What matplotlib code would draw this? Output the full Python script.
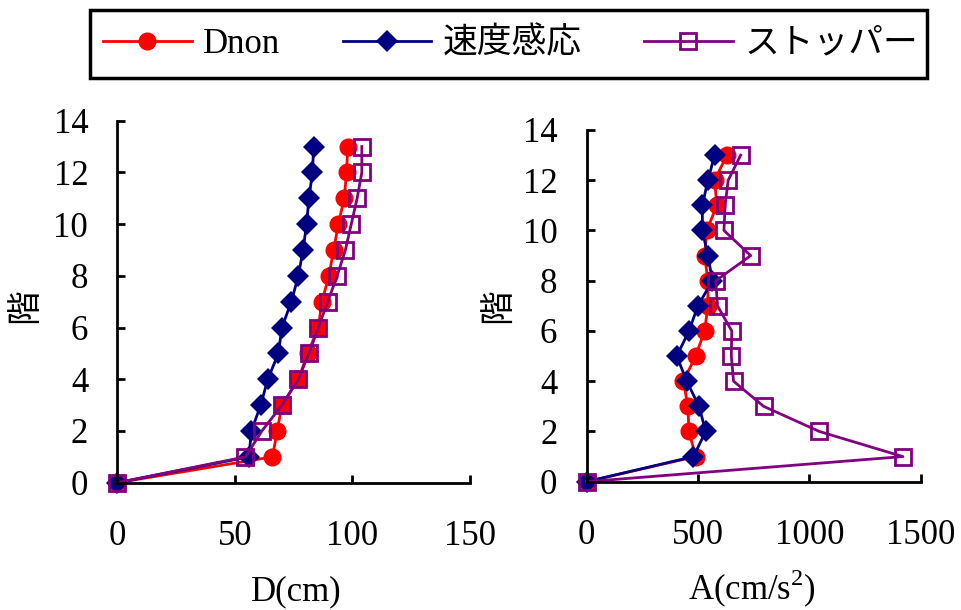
"""Floor response profiles: displacement and acceleration."""

import matplotlib

matplotlib.use("Agg")

import matplotlib.pyplot as plt
from matplotlib.patches import Rectangle

plt.rcParams["font.family"] = ["Liberation Serif", "Noto Sans CJK JP"]
plt.rcParams["mathtext.fontset"] = "custom"
plt.rcParams["mathtext.rm"] = "Liberation Serif"

floors = list(range(14))

disp_dnon = [0, 66, 68, 70, 77, 81, 85.5, 87, 90, 92, 94, 96.5, 97.5, 98]
disp_speed = [0, 56, 57, 61, 64, 68.5, 70, 74, 77, 79, 80.5, 81.5, 83, 83.5]
disp_stopper = [0, 54.5, 61.5, 70, 77, 81.5, 85.5, 89.5, 93.5, 97, 99.5, 102, 104, 104]

acc_dnon = [0, 490, 460, 455, 435, 490, 530, 545, 545, 530, 540, 585, 575, 630]
acc_speed = [0, 480, 535, 505, 450, 405, 460, 500, 565, 545, 520, 520, 545, 575]
acc_stopper = [0, 1420, 1045, 795, 660, 650, 652, 588, 580, 737, 617, 622, 636, 692]

labels = ["Dnon", "速度感応", "ストッパー"]
colors = ["#FF0000", "#000080", "#800080"]

W, H = 961, 610
FS = 25

fig = plt.figure(figsize=(W / 100, H / 100), dpi=100)

# axes boxes from pixel positions
ax_d = fig.add_axes([117.3 / W, 1 - 482.7 / H, (470 - 117.3) / W, (482.7 - 120.7) / H])
ax_a = fig.add_axes([586.5 / W, 1 - 481.7 / H, (920.7 - 586.5) / W, (481.7 - 130) / H])


def draw_series(ax, dnon, speed, stopper):
    ax.plot(dnon, floors, color=colors[0], lw=2, marker="o", ms=13, mew=0,
            label=labels[0], clip_on=False)
    ax.plot(speed, floors, color=colors[1], lw=2, marker="D", ms=11, mew=0,
            label=labels[1], clip_on=False)
    ax.plot(stopper, floors, color=colors[2], lw=2, marker="s", ms=12, mew=2,
            mfc="none", label=labels[2], clip_on=False)


def style_axes(ax, xmax, xstep):
    ax.set_xlim(0, xmax)
    ax.set_ylim(0, 14)
    ax.set_xticks(range(0, xmax + 1, xstep))
    ax.set_yticks(range(0, 15, 2))
    for side in ("top", "right"):
        ax.spines[side].set_visible(False)
    for side in ("left", "bottom"):
        ax.spines[side].set_linewidth(2)
    ax.tick_params(axis="both", direction="in", length=6, width=2, labelsize=FS)
    ax.tick_params(axis="x", pad=27)
    ax.tick_params(axis="y", pad=21)


draw_series(ax_d, disp_dnon, disp_speed, disp_stopper)
style_axes(ax_d, 150, 50)
draw_series(ax_a, acc_dnon, acc_speed, acc_stopper)
style_axes(ax_a, 1500, 500)

ax_d.set_ylabel("階", fontsize=FS)
ax_d.yaxis.set_label_coords((42 - 117.3) / 352.7, 0.49)
ax_a.set_ylabel("階", fontsize=FS)
ax_a.yaxis.set_label_coords((515 - 586.5) / 334.2, 0.50)

ax_d.set_xlabel("D(cm)", fontsize=FS, va="baseline")
ax_d.xaxis.set_label_coords((296.7 - 117.3) / 352.7, (482.7 - 600) / 362)
ax_a.set_xlabel("A(cm/s$^{2}$)", fontsize=FS, va="baseline")
ax_a.xaxis.set_label_coords((751.7 - 586.5) / 334.2, (481.7 - 600) / 351.7)

# legend with a separately drawn frame
handles, _ = ax_d.get_legend_handles_labels()
fig.legend(handles, labels, loc="center", bbox_to_anchor=(510.5 / W, 1 - 44 / H),
           ncol=3, frameon=False, fontsize=FS, handlelength=2.55,
           handletextpad=0.33, columnspacing=1.8, borderpad=0)
fig.patches.append(Rectangle((90 / W, 1 - 78 / H), (927 - 90) / W, 68 / H,
                             transform=fig.transFigure, fill=False,
                             edgecolor="black", lw=2.5))

fig.savefig("out.png", dpi=100)
plt.close(fig)
